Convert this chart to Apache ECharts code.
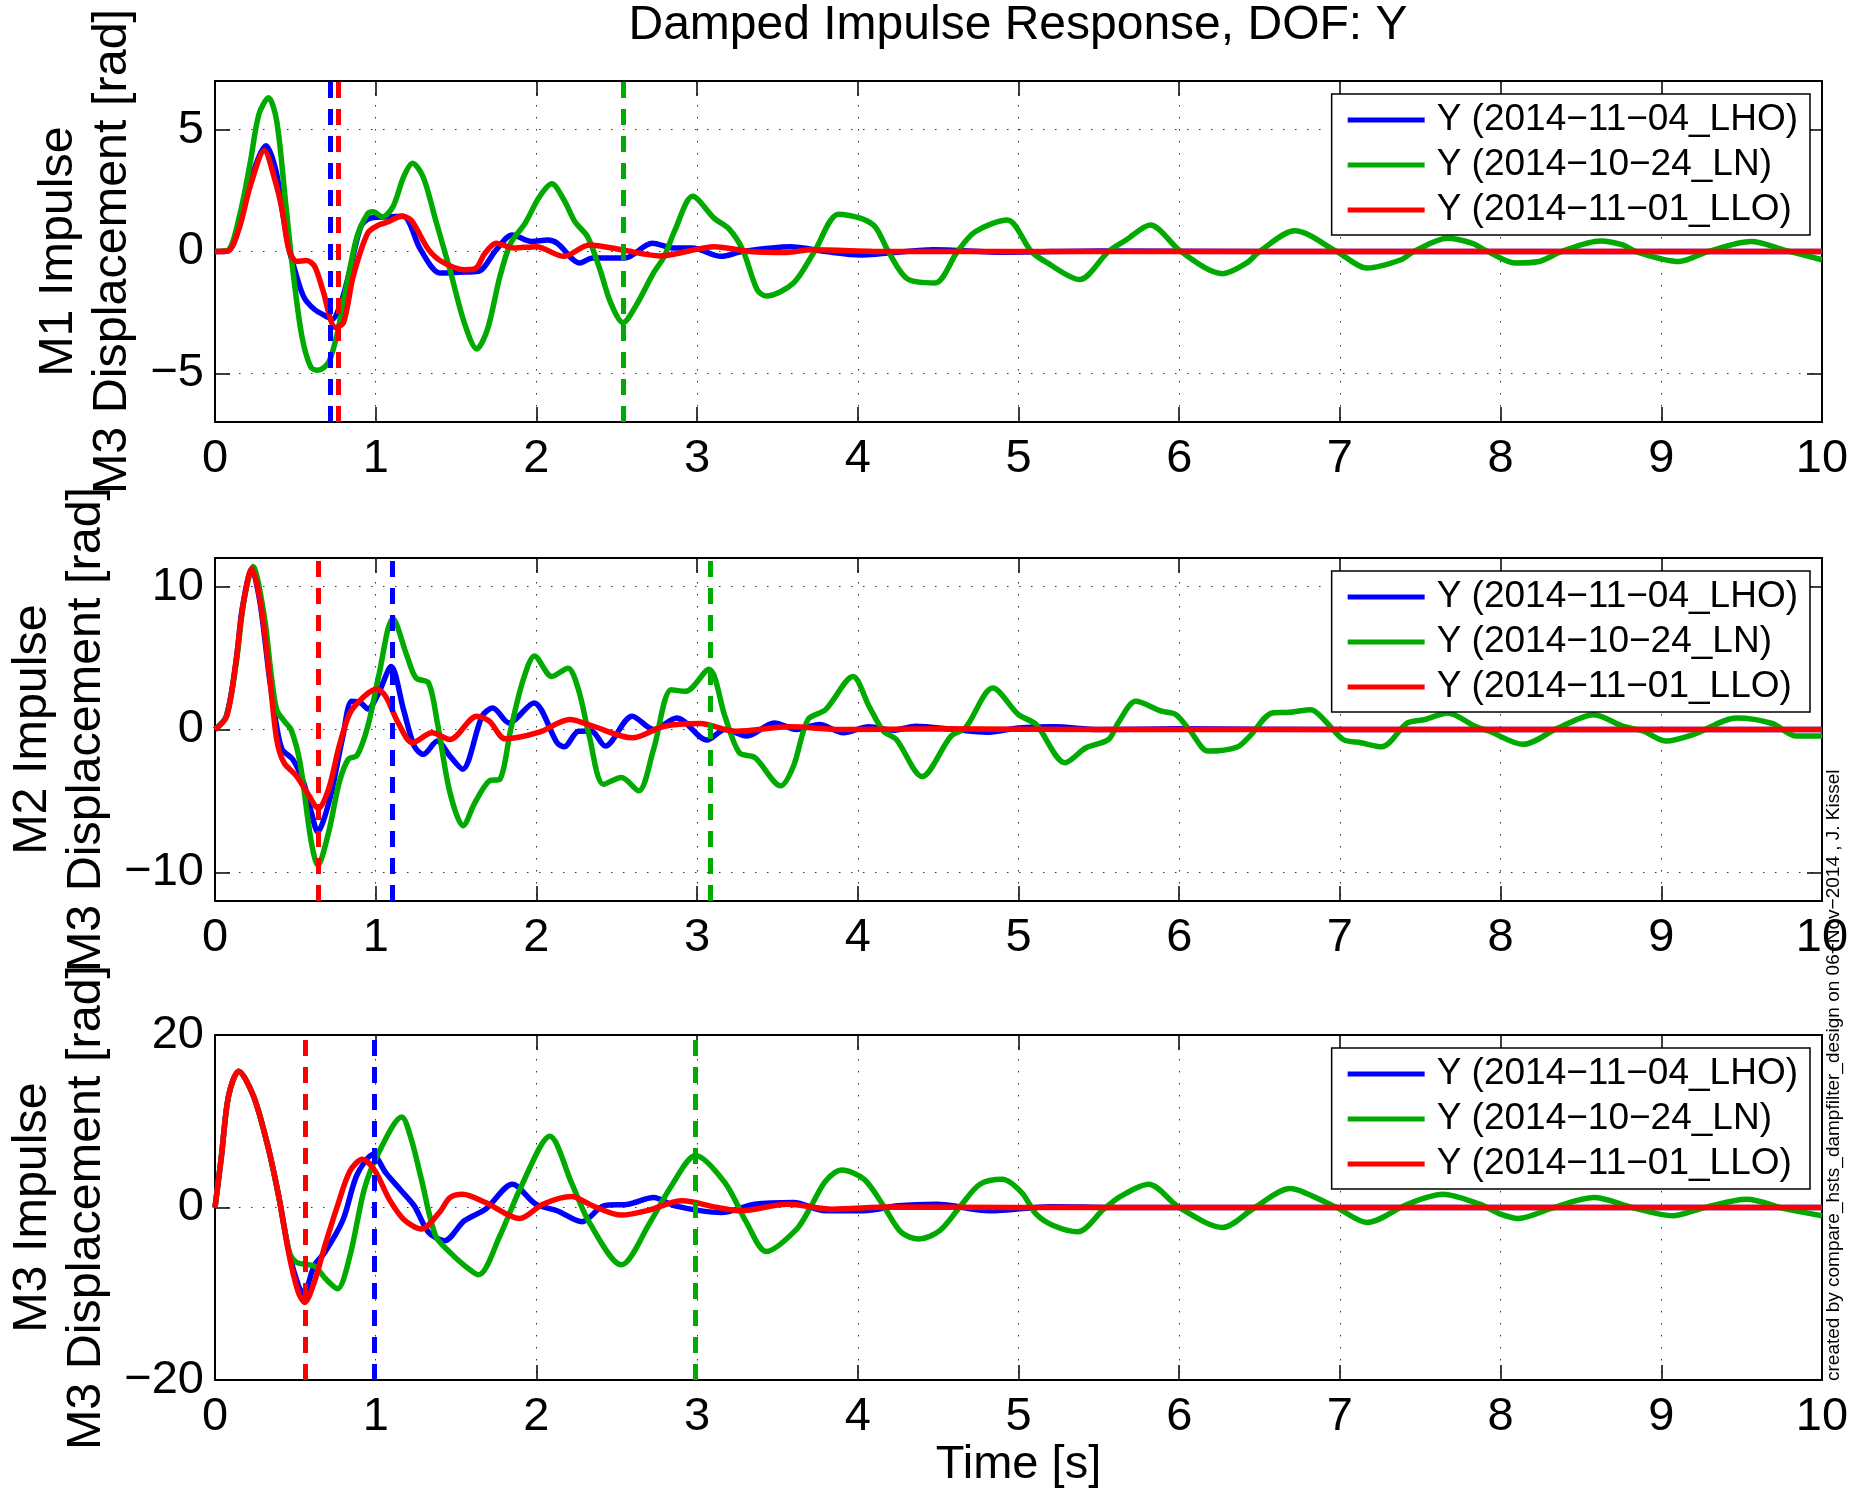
<!DOCTYPE html>
<html>
<head>
<meta charset="utf-8">
<title>Damped Impulse Response, DOF: Y</title>
<script src="https://cdn.jsdelivr.net/npm/echarts@6.0.0/dist/echarts.min.js"></script>
<style>
  html, body { margin: 0; padding: 0; background: #fff; }
  #chart { width: 1859px; height: 1494px; }
</style>
</head>
<body>
<div id="chart"></div>
<script>
// labels / ticks
const seriesNames = ['Y (2014\u221211\u221204_LHO)', 'Y (2014\u221210\u221224_LN)', 'Y (2014\u221211\u221201_LLO)'];
const seriesColors = ['#0000ff', '#00aa00', '#ff0000'];
const panelLabels = [
  'M1 Impulse\nM3 Displacement [rad]',
  'M2 Impulse\nM3 Displacement [rad]',
  'M3 Impulse\nM3 Displacement [rad]'
];
const yTicksM1 = [-5, 0, 5];
const yTicksM2 = [-10, 0, 10];
const yTicksM3 = [-20, 0, 20];
const yRanges = [[-7, 7], [-12, 12], [-20, 20]];

// dashed marker times [LHO, LN, LLO]
const dashM1 = [0.718, 2.54, 0.769];
const dashM2 = [1.096, 3.075, 0.64];
const dashM3 = [0.989, 2.99, 0.558];

// M1 panel [t, value]
const m1Lho = [[0,0],[0.08,0.02],[0.15,1.0],[0.22,2.9],[0.318,4.34],[0.38,3.3],[0.418,1.7],[0.46,0.1],[0.484,-0.47],[0.55,-1.83],[0.618,-2.37],[0.707,-2.71],[0.73,-2.78],[0.784,-2.1],[0.84,-0.75],[0.907,1.02],[0.962,1.36],[1.06,1.42],[1.17,1.45],[1.28,0.07],[1.4,-0.88],[1.52,-0.85],[1.64,-0.81],[1.75,0.07],[1.85,0.68],[1.97,0.41],[2.07,0.47],[2.13,0.34],[2.27,-0.47],[2.35,-0.27],[2.55,-0.27],[2.72,0.34],[2.86,0.14],[2.97,0.14],[3.15,-0.2],[3.28,0.0],[3.58,0.2],[3.8,0.0],[4.02,-0.14],[4.47,0.07],[4.91,-0.03],[5.5,0.02],[6.5,0],[8,0],[10,0]];
const m1Ln = [[0,0],[0.08,0.05],[0.151,1.42],[0.218,3.6],[0.273,5.63],[0.333,6.31],[0.384,5.36],[0.44,1.97],[0.484,-0.75],[0.54,-3.46],[0.596,-4.75],[0.64,-4.88],[0.707,-4.55],[0.762,-3.32],[0.818,-1.42],[0.884,0.61],[0.951,1.56],[0.984,1.63],[1.04,1.42],[1.107,1.83],[1.173,3.05],[1.229,3.62],[1.296,3.05],[1.373,1.29],[1.462,-0.75],[1.551,-2.92],[1.629,-4.0],[1.696,-3.19],[1.773,-1.02],[1.84,0.34],[1.929,1.15],[2.018,2.24],[2.096,2.78],[2.173,2.1],[2.24,1.22],[2.318,0.61],[2.396,-0.75],[2.462,-2.1],[2.54,-2.92],[2.618,-2.24],[2.729,-0.88],[2.796,-0.2],[2.862,0.88],[2.973,2.27],[3.107,1.36],[3.196,0.95],[3.284,0.07],[3.373,-1.56],[3.43,-1.83],[3.6,-1.29],[3.73,0],[3.88,1.53],[4.02,1.36],[4.11,1.0],[4.19,0],[4.31,-1.13],[4.48,-1.29],[4.62,0],[4.73,0.81],[4.93,1.29],[5.08,0],[5.18,-0.47],[5.38,-1.15],[5.56,0],[5.67,0.47],[5.82,1.09],[6.01,0],[6.27,-0.91],[6.42,-0.47],[6.5,0],[6.72,0.85],[6.98,0],[7.17,-0.68],[7.38,-0.34],[7.46,0],[7.67,0.54],[7.82,0.34],[7.92,0],[8.09,-0.47],[8.24,-0.41],[8.38,0],[8.62,0.43],[8.76,0.27],[8.84,0],[9.11,-0.41],[9.29,0],[9.56,0.41],[9.76,0.07],[10,-0.34]];
const m1Llo = [[0,0],[0.08,0.02],[0.15,0.95],[0.22,2.7],[0.307,4.14],[0.37,3.0],[0.418,1.7],[0.46,0.07],[0.51,-0.41],[0.57,-0.37],[0.62,-0.61],[0.67,-1.56],[0.75,-3.12],[0.8,-2.92],[0.86,-1.02],[0.95,0.75],[1.02,1.09],[1.08,1.22],[1.16,1.45],[1.22,1.29],[1.33,0.07],[1.42,-0.45],[1.55,-0.75],[1.62,-0.7],[1.68,-0.07],[1.75,0.34],[1.86,0.14],[2.0,0.2],[2.17,-0.2],[2.33,0.27],[2.53,0.07],[2.77,-0.18],[3.11,0.2],[3.33,0],[3.56,-0.04],[3.71,0.07],[4.2,0],[10,0]];

// M2 panel
const m2Lho = [[0,0],[0.07,0.93],[0.13,4.64],[0.17,8.5],[0.229,11.2],[0.28,8.9],[0.34,3.5],[0.384,0.2],[0.418,-1.39],[0.484,-2.09],[0.551,-3.71],[0.6,-5.8],[0.64,-7.19],[0.68,-6.2],[0.729,-4.18],[0.796,-0.46],[0.851,1.97],[0.907,1.86],[0.951,1.44],[1.018,2.55],[1.096,4.41],[1.173,1.39],[1.24,-1.16],[1.296,-1.74],[1.384,-0.81],[1.462,-1.86],[1.54,-2.78],[1.662,0.93],[1.729,1.51],[1.829,0.46],[1.984,1.86],[2.129,-0.93],[2.173,-1.21],[2.262,-0.12],[2.34,-0.1],[2.429,-1.16],[2.596,0.93],[2.729,0],[2.873,0.81],[3.062,-0.74],[3.173,0],[3.31,-0.46],[3.48,0.46],[3.62,0.0],[3.76,0.35],[3.91,-0.23],[4.07,0.2],[4.22,-0.05],[4.36,0.23],[4.6,0.0],[4.8,-0.19],[5.0,0.1],[5.22,0.19],[5.5,0],[6,0.05],[7,0],[10,0]];
const m2Ln = [[0,0],[0.07,0.9],[0.13,4.5],[0.18,9.0],[0.236,11.4],[0.307,7.89],[0.35,3.8],[0.384,1.39],[0.43,0.6],[0.473,0],[0.529,-2.32],[0.596,-7.66],[0.64,-9.51],[0.707,-7.19],[0.773,-3.71],[0.829,-2.09],[0.884,-1.81],[0.951,0.23],[1.018,3.71],[1.107,7.77],[1.196,5.1],[1.251,3.6],[1.329,3.25],[1.384,0.46],[1.462,-4.41],[1.544,-6.73],[1.618,-5.1],[1.707,-3.6],[1.773,-3.48],[1.84,0],[1.918,3.48],[1.989,5.15],[2.096,3.71],[2.196,4.29],[2.262,2.78],[2.329,-0.46],[2.418,-3.83],[2.529,-3.36],[2.636,-4.29],[2.729,-1.39],[2.84,2.78],[2.929,2.67],[3.073,4.22],[3.173,0.93],[3.262,-1.62],[3.36,-1.97],[3.52,-3.94],[3.6,-2.55],[3.69,0.7],[3.8,1.39],[3.97,3.71],[4.07,1.62],[4.16,-0.12],[4.24,-0.7],[4.4,-3.29],[4.58,-0.46],[4.67,0.12],[4.84,2.9],[5.0,1.04],[5.11,0.35],[5.29,-2.32],[5.42,-1.28],[5.56,-0.7],[5.62,0.46],[5.73,1.97],[5.89,1.28],[5.98,1.04],[6.07,-0.12],[6.18,-1.51],[6.36,-1.23],[6.44,-0.46],[6.58,1.16],[6.69,1.2],[6.82,1.39],[6.91,0.58],[7.02,-0.7],[7.13,-0.93],[7.26,-1.21],[7.42,0.46],[7.53,0.7],[7.67,1.16],[7.84,0.23],[7.93,-0.12],[8.14,-1.04],[8.36,0.12],[8.58,1.04],[8.76,0.23],[8.89,-0.12],[9.03,-0.81],[9.2,-0.35],[9.47,0.81],[9.69,0.42],[9.84,-0.46],[10,-0.46]];
const m2Llo = [[0,0],[0.073,0.93],[0.129,4.64],[0.173,8.58],[0.229,11.25],[0.284,8.82],[0.34,3.71],[0.384,-0.7],[0.429,-2.32],[0.507,-3.25],[0.573,-4.41],[0.644,-5.52],[0.707,-4.18],[0.773,-1.16],[0.84,1.16],[0.929,2.32],[1.007,2.83],[1.062,2.32],[1.14,0.46],[1.229,-0.93],[1.351,-0.23],[1.462,-0.7],[1.629,0.93],[1.707,0.58],[1.807,-0.65],[2.018,-0.19],[2.207,0.7],[2.351,0.23],[2.596,-0.58],[2.796,0.23],[3.018,0.42],[3.24,-0.12],[3.58,0.19],[3.9,0],[4.5,0.05],[5.5,0],[10,0]];

// M3 panel
const m3Lho = [[0,0],[0.04,5.96],[0.084,12.9],[0.147,15.8],[0.24,12.9],[0.329,7.1],[0.396,1.35],[0.462,-5.3],[0.518,-9.0],[0.551,-10.0],[0.618,-6.73],[0.684,-5.19],[0.796,-1.45],[0.884,3.8],[0.984,6.15],[1.062,4.04],[1.151,2.12],[1.24,0.19],[1.329,-2.88],[1.429,-3.85],[1.551,-1.54],[1.684,-0.19],[1.851,2.69],[1.996,0.38],[2.129,-0.38],[2.284,-1.65],[2.418,0.19],[2.573,0.38],[2.729,1.15],[2.862,0.19],[3.151,-0.58],[3.36,0.38],[3.6,0.58],[3.8,-0.38],[4.04,-0.38],[4.25,0.2],[4.49,0.38],[4.82,-0.38],[5.2,0.1],[5.6,0],[10,0]];
const m3Ln = [[0,0],[0.04,5.96],[0.084,12.9],[0.147,15.8],[0.24,12.9],[0.329,7.1],[0.396,1.35],[0.46,-5.0],[0.507,-6.35],[0.618,-6.81],[0.69,-8.3],[0.762,-9.42],[0.84,-5.58],[0.929,2.12],[1.018,6.35],[1.162,10.5],[1.22,8.0],[1.284,3.3],[1.373,-3.3],[1.462,-5.2],[1.551,-6.7],[1.64,-7.81],[1.773,-3.27],[1.907,2.5],[2.084,8.27],[2.218,2.88],[2.329,-1.73],[2.529,-6.65],[2.707,-1.73],[2.84,2.5],[2.991,6.04],[3.173,2.88],[3.307,-1.73],[3.43,-5.1],[3.62,-2.5],[3.71,0.19],[3.8,3.08],[3.9,4.35],[4.04,3.27],[4.16,0.19],[4.27,-2.88],[4.38,-3.65],[4.51,-2.69],[4.64,0.19],[4.76,2.69],[4.9,3.27],[5.02,1.73],[5.11,-0.77],[5.22,-2.12],[5.37,-2.81],[5.53,-0.19],[5.64,1.35],[5.81,2.69],[6.0,0],[6.27,-2.31],[6.47,0],[6.69,2.19],[6.78,1.73],[6.98,0],[7.17,-1.73],[7.42,0.38],[7.64,1.54],[7.87,0.38],[8.0,-0.77],[8.11,-1.27],[8.33,0],[8.58,1.15],[8.82,0],[9.07,-0.96],[9.27,0],[9.53,0.96],[9.78,-0.19],[10,-0.96]];
const m3Llo = [[0,0],[0.04,5.96],[0.084,12.9],[0.147,15.8],[0.24,12.9],[0.329,7.1],[0.396,1.35],[0.462,-5.58],[0.518,-9.8],[0.558,-11.0],[0.618,-8.65],[0.684,-4.42],[0.762,0.19],[0.84,4.23],[0.918,5.58],[0.996,4.23],[1.084,0.96],[1.173,-1.35],[1.284,-2.5],[1.396,-0.58],[1.462,1.15],[1.54,1.54],[1.684,0.58],[1.896,-1.27],[2.04,0.38],[2.218,1.27],[2.351,0.19],[2.529,-0.88],[2.7,-0.3],[2.907,0.77],[3.129,0],[3.27,-0.38],[3.56,0.38],[3.84,-0.19],[4.2,0.05],[5,0],[10,0]];

const panels = [
  {data: [m1Lho, m1Ln, m1Llo], dash: dashM1, ticks: yTicksM1, label: panelLabels[0], gap: 74},
  {data: [m2Lho, m2Ln, m2Llo], dash: dashM2, ticks: yTicksM2, label: panelLabels[1], gap: 98},
  {data: [m3Lho, m3Ln, m3Llo], dash: dashM3, ticks: yTicksM3, label: panelLabels[2], gap: 98}
];

const FONT = '"Liberation Sans", Arial, Helvetica, sans-serif';
const gridTops = [81, 558, 1035];
const gridHeights = [341, 343, 345];
const minus = v => String(v).replace('-', '\u2212');

const chart = echarts.init(document.getElementById('chart'), null, {renderer: 'canvas'});

const grid = [], xAxis = [], yAxis = [], series = [], legend = [];
panels.forEach((p, i) => {
  grid.push({left: 215, right: 37, top: gridTops[i], height: gridHeights[i], containLabel: false, outerBoundsMode: 'none'});
  xAxis.push({
    type: 'value', gridIndex: i, min: 0, max: 10, interval: 1,
    axisLine: {show: true, onZero: false, lineStyle: {color: '#000', width: 2}},
    axisTick: {inside: true, length: 15, lineStyle: {color: '#000', width: 1.5}},
    axisLabel: {fontSize: 47, color: '#000', fontFamily: FONT, margin: 14},
    splitLine: {show: true, lineStyle: {color: '#333', width: 1, type: [1.5, 10.5]}},
    name: i === 2 ? 'Time [s]' : '',
    nameLocation: 'middle', nameGap: 62,
    nameTextStyle: {fontSize: 47, color: '#000', fontFamily: FONT}
  });
  const r = yRanges[i];
  const yCommon = {
    type: 'value', gridIndex: i, min: r[0], max: r[1],
    axisTick: {inside: true, length: 15, customValues: p.ticks, lineStyle: {color: '#000', width: 1.5}},
    axisLine: {show: true, onZero: false, lineStyle: {color: '#000', width: 2}}
  };
  yAxis.push(Object.assign({}, yCommon, {
    position: 'left',
    axisLabel: {customValues: p.ticks, fontSize: 47, color: '#000', fontFamily: FONT, margin: 11, formatter: minus},
    splitLine: {show: true, lineStyle: {color: '#333', width: 1, type: [1.5, 10.5]}},
    name: p.label, nameLocation: 'middle', nameRotate: 90, nameGap: p.gap,
    nameTextStyle: {fontSize: 48.5, color: '#000', fontFamily: FONT, lineHeight: 54}
  }));
  legend.push({
    data: seriesNames, orient: 'vertical', right: 49, top: gridTops[i] + 13,
    icon: 'rect', itemWidth: 77, itemHeight: 5, itemGap: 3,
    padding: [5, 12, 4, 16],
    backgroundColor: '#fff', borderColor: '#000', borderWidth: 1.5, borderRadius: 0,
    selectedMode: false,
    textStyle: {fontSize: 37, color: '#000', fontFamily: FONT, lineHeight: 42, padding: [0, 0, 0, 7]}
  });
  p.data.forEach((d, k) => {
    series.push({
      name: seriesNames[k], type: 'line', xAxisIndex: i, yAxisIndex: i,
      data: d, showSymbol: false, smooth: 0.3,
      lineStyle: {color: seriesColors[k], width: 5.5},
      itemStyle: {color: seriesColors[k]},
      markLine: {
        symbol: 'none', silent: true, label: {show: false},
        lineStyle: {color: seriesColors[k], width: 5, type: [16, 11]},
        data: [{xAxis: p.dash[k]}]
      }
    });
  });
});
// mirrored box axes (top / right) for the inward ticks
panels.forEach((p, i) => {
  xAxis.push({
    type: 'value', gridIndex: i, position: 'top', min: 0, max: 10, interval: 1,
    axisLine: {show: true, onZero: false, lineStyle: {color: '#000', width: 2}},
    axisTick: {inside: true, length: 15, lineStyle: {color: '#000', width: 1.5}},
    axisLabel: {show: false}, splitLine: {show: false}
  });
  yAxis.push({
    type: 'value', gridIndex: i, position: 'right', min: yRanges[i][0], max: yRanges[i][1],
    axisLine: {show: true, onZero: false, lineStyle: {color: '#000', width: 2}},
    axisTick: {inside: true, length: 15, customValues: p.ticks, lineStyle: {color: '#000', width: 1.5}},
    axisLabel: {show: false}, splitLine: {show: false}
  });
});

chart.setOption({
  animation: false,
  backgroundColor: '#fff',
  title: {
    text: 'Damped Impulse Response, DOF: Y',
    left: 1018, top: 2, textAlign: 'center', padding: 0,
    textStyle: {fontSize: 48, fontWeight: 'normal', color: '#000', fontFamily: FONT}
  },
  grid: grid,
  xAxis: xAxis,
  yAxis: yAxis,
  legend: legend,
  series: series,
  graphic: [{
    type: 'text', x: 1834, y: 1381, rotation: Math.PI / 2,
    style: {
      text: 'created by compare_hsts_dampfilter_design on 06\u2212Nov\u22122014 , J. Kissel',
      fontSize: 19, fontFamily: FONT, fill: '#000', align: 'left', verticalAlign: 'middle'
    }
  }]
});
</script>
</body>
</html>
